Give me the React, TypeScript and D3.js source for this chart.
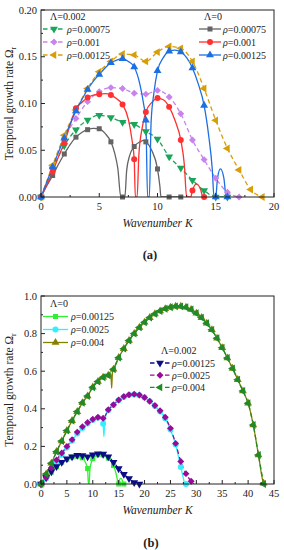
import React from 'react';
import * as d3 from 'd3';

type Pt = [number, number];
type Shape = 'square' | 'circle' | 'triUp' | 'triDown' | 'diamond' | 'triLeft';

// ---------- panel (a) data : wavenumber K, growth rate ----------
// Lambda = 0
const aL0_rho00075: Pt[] = [[0, 0], [0.5, 0.012], [1, 0.023], [1.5, 0.035], [2, 0.046], [2.5, 0.056], [3, 0.064], [3.5, 0.069], [4, 0.072], [4.5, 0.0735], [5, 0.073], [5.5, 0.068], [6, 0.059], [6.3, 0.048], [6.6, 0.03], [6.85, 0], [7, 0], [7.2, 0], [7.35, 0.028], [7.6, 0.044], [8, 0.054], [8.5, 0.059], [8.8, 0.0605], [9, 0.059], [9.5, 0.05], [10, 0.03], [10.2, 0.012], [10.3, 0], [11, 0], [12, 0]];
const aL0_rho001: Pt[] = [[0, 0], [0.5, 0.013], [1, 0.027], [1.5, 0.043], [2, 0.058], [2.5, 0.077], [3, 0.095], [3.5, 0.101], [4, 0.1065], [4.5, 0.109], [5, 0.11], [5.5, 0.1105], [6, 0.109], [6.5, 0.105], [7, 0.099], [7.5, 0.083], [7.8, 0.062], [8, 0.0405], [8.1, 0], [8.25, 0], [8.4, 0.045], [8.7, 0.075], [9, 0.091], [9.5, 0.101], [10, 0.1058], [10.5, 0.104], [11, 0.0964], [11.5, 0.082], [12, 0.061], [12.3, 0.035], [12.5, 0], [12.85, 0], [13, 0.007], [13.35, 0.014], [13.7, 0.008], [13.9, 0], [14, 0]];
const rho00125_L0: Pt[] = [[0, 0], [0.5, 0.016], [1, 0.032], [1.5, 0.048], [2, 0.063], [2.5, 0.078], [3, 0.092], [3.5, 0.104], [4, 0.115], [4.5, 0.124], [5, 0.131], [5.5, 0.138], [6, 0.1435], [6.5, 0.1465], [7, 0.148], [7.5, 0.145], [8, 0.139], [8.5, 0.12], [8.8, 0.1], [9, 0.082], [9.15, 0], [9.3, 0], [9.45, 0.08], [9.7, 0.112], [10, 0.135], [10.5, 0.149], [11, 0.156], [11.5, 0.157], [12, 0.155], [12.5, 0.149], [13, 0.138], [13.5, 0.121], [14, 0.098], [14.4, 0.065], [14.7, 0.03], [14.85, 0], [15, 0], [15.15, 0.02], [15.4, 0.03], [15.7, 0.02], [15.9, 0], [16, 0]];
// Lambda = 0.002
const aL2_rho00075: Pt[] = [[0, 0], [1, 0.03], [2, 0.055], [3, 0.072], [4, 0.0824], [5, 0.0874], [6, 0.085], [7, 0.08], [8, 0.0777], [9, 0.07], [10, 0.062], [11, 0.043], [12, 0.031], [13, 0.018], [14, 0.007], [15, 0], [16, 0]];
const aL2_rho001: Pt[] = [[0, 0], [1, 0.032], [2, 0.063], [3, 0.084], [4, 0.102], [5, 0.1125], [6, 0.117], [7, 0.116], [8, 0.111], [9, 0.11], [10, 0.114], [11, 0.107], [12, 0.089], [13, 0.061], [14, 0.04], [15, 0.02], [16, 0.005], [17, 0]];
const rho00125_L2: Pt[] = [[0, 0], [1, 0.034], [2, 0.066], [3, 0.093], [4, 0.116], [5, 0.134], [6, 0.145], [7, 0.153], [8, 0.152], [9, 0.145], [10, 0.155], [11, 0.161], [12, 0.159], [13, 0.145], [14, 0.116], [15, 0.082], [16, 0.052], [17, 0.029], [18, 0.008], [19, 0]];

// ---------- panel (b) data ----------
const bL0_rho0025: Pt[] = [[0, 0], [1, 0.03], [2, 0.07], [3, 0.113], [4, 0.155], [5, 0.194], [6, 0.23], [7, 0.268], [8, 0.298], [9, 0.322], [10, 0.341], [11, 0.353], [11.7, 0.352], [12, 0.32], [12.15, 0.252], [12.3, 0.33], [12.6, 0.37], [13, 0.392], [14, 0.42], [15, 0.445], [16, 0.463], [17, 0.473], [18, 0.476], [19, 0.472], [20, 0.46], [21, 0.44], [22, 0.415], [23, 0.385], [24, 0.348], [25, 0.29], [26, 0.21], [27, 0.09], [27.5, 0.03], [27.8, 0], [28, 0]];
const bL2_rho0025: Pt[] = [[0, 0], [1, 0.035], [2, 0.085], [3, 0.128], [4, 0.165], [5, 0.2], [6, 0.236], [7, 0.276], [8, 0.305], [9, 0.327], [10, 0.344], [11, 0.355], [12, 0.35], [13, 0.395], [14, 0.422], [15, 0.447], [16, 0.465], [17, 0.475], [18, 0.478], [19, 0.473], [20, 0.46], [21, 0.44], [22, 0.418], [23, 0.39], [24, 0.355], [25, 0.296], [26, 0.216], [27, 0.12], [28, 0.055], [29, 0.015], [29.5, 0]];
const bL0_rho004: Pt[] = [[0, 0], [1, 0.053], [2, 0.11], [3, 0.172], [4, 0.229], [5, 0.284], [6, 0.337], [7, 0.385], [8, 0.432], [9, 0.468], [10, 0.515], [11, 0.545], [12, 0.568], [13, 0.578], [13.5, 0.585], [13.65, 0.51], [13.8, 0.595], [14, 0.61], [15, 0.672], [16, 0.72], [17, 0.763], [18, 0.8], [19, 0.833], [20, 0.86], [21, 0.885], [22, 0.905], [23, 0.92], [24, 0.932], [25, 0.94], [26, 0.945], [27, 0.945], [28, 0.94], [29, 0.928], [30, 0.908], [31, 0.885], [32, 0.855], [33, 0.82], [34, 0.775], [35, 0.725], [36, 0.67], [37, 0.615], [38, 0.555], [39, 0.495], [40, 0.43], [41, 0.314], [42, 0.154], [43, 0.004], [43.2, 0]];
const bL2_rho004: Pt[] = [[0, 0], [1, 0.053], [2, 0.11], [3, 0.172], [4, 0.229], [5, 0.284], [6, 0.337], [7, 0.385], [8, 0.432], [9, 0.468], [10, 0.515], [11, 0.545], [12, 0.568], [13, 0.578], [14, 0.61], [15, 0.672], [16, 0.72], [17, 0.763], [18, 0.8], [19, 0.833], [20, 0.86], [21, 0.885], [22, 0.905], [23, 0.92], [24, 0.932], [25, 0.94], [26, 0.945], [27, 0.945], [28, 0.94], [29, 0.928], [30, 0.908], [31, 0.885], [32, 0.855], [33, 0.82], [34, 0.775], [35, 0.725], [36, 0.67], [37, 0.615], [38, 0.555], [39, 0.495], [40, 0.43], [41, 0.314], [42, 0.154], [43, 0]];

const xTicksA = [0, 5, 10, 15, 20];
const yTicksA = [0, 0.05, 0.1, 0.15, 0.2];
const xTicksB = [0, 5, 10, 15, 20, 25, 30, 35, 40, 45];
const yTicksB = [0, 0.2, 0.4, 0.6, 0.8, 1.0];

interface Series { rho: string; pts: Pt[]; color: string; dashed: boolean; shape: Shape }

const seriesA_L0: Series[] = [
  { rho: '0.00075', pts: aL0_rho00075, color: '#646464', dashed: false, shape: 'square' },
  { rho: '0.001', pts: aL0_rho001, color: '#ff3030', dashed: false, shape: 'circle' },
  { rho: '0.00125', pts: rho00125_L0, color: '#1c6fe3', dashed: false, shape: 'triUp' },
];
const seriesA_L2: Series[] = [
  { rho: '0.00075', pts: aL2_rho00075, color: '#1aa55a', dashed: true, shape: 'triDown' },
  { rho: '0.001', pts: aL2_rho001, color: '#c884ec', dashed: true, shape: 'diamond' },
  { rho: '0.00125', pts: rho00125_L2, color: '#d89e08', dashed: true, shape: 'triLeft' },
];
const seriesB_L0: Series[] = [
  { rho: '0.00125', pts: rho00125_L0, color: '#33ee33', dashed: false, shape: 'square' },
  { rho: '0.0025', pts: bL0_rho0025, color: '#33eeff', dashed: false, shape: 'circle' },
  { rho: '0.004', pts: bL0_rho004, color: '#858000', dashed: false, shape: 'triUp' },
];
const seriesB_L2: Series[] = [
  { rho: '0.00125', pts: rho00125_L2, color: '#0c0c88', dashed: true, shape: 'triDown' },
  { rho: '0.0025', pts: bL2_rho0025, color: '#990a99', dashed: true, shape: 'diamond' },
  { rho: '0.004', pts: bL2_rho004, color: '#1f8a2a', dashed: true, shape: 'triLeft' },
];

const FONT = '"Liberation Serif", "Times New Roman", serif';
const X0 = 41, X1 = 274;

function Marker({ shape, cx, cy, color }: { shape: Shape; cx: number; cy: number; color: string }) {
  let d: string | null = '';
  let rot = 0;
  if (shape === 'square') d = d3.symbol(d3.symbolSquare, 25)();
  else if (shape === 'circle') d = d3.symbol(d3.symbolCircle, 28)();
  else if (shape === 'diamond') { d = d3.symbol(d3.symbolSquare, 24)(); rot = 45; }
  else {
    d = d3.symbol(d3.symbolTriangle, 27)();
    rot = shape === 'triDown' ? 180 : shape === 'triLeft' ? -90 : 0;
  }
  return <path d={d || ''} fill={color} transform={`translate(${cx},${cy}) rotate(${rot})`} />;
}

function Legend({ x, y, lineX0, lineX1, textX, title, series, step }: {
  x: number; y: number; lineX0: number; lineX1: number; textX: number; title: string; series: Series[]; step: number;
}) {
  return (
    <g fontFamily={FONT} fontSize={10} fill="#222">
      <text x={x} y={y}>{title}</text>
      {series.map((s, i) => {
        const cy = y + 9.5 + i * step;
        return (
          <g key={i}>
            <line x1={lineX0} x2={lineX1} y1={cy} y2={cy} stroke={s.color} strokeWidth={1.3}
              strokeDasharray={s.dashed ? '4.5,3' : undefined} />
            <Marker shape={s.shape} cx={(lineX0 + lineX1) / 2} cy={cy} color={s.color} />
            <text x={textX} y={cy + 3.5}><tspan fontStyle="italic">ρ</tspan>=0.{s.rho.slice(2)}</text>
          </g>
        );
      })}
    </g>
  );
}

function Panel({ top, bottom, xMax, yMax, xTicks, yTicks, yFmt, xMinorStep, yMinorStep, layers, tag, children }: {
  top: number; bottom: number; xMax: number; yMax: number; xTicks: number[]; yTicks: number[];
  yFmt: string; xMinorStep: number; yMinorStep: number; layers: Series[]; tag: string; children?: React.ReactNode;
}) {
  const x = d3.scaleLinear().domain([0, xMax]).range([X0, X1]);
  const y = d3.scaleLinear().domain([0, yMax]).range([bottom, top]);
  const line = d3.line<Pt>().x(d => x(d[0])).y(d => y(d[1])).curve(d3.curveMonotoneX);
  const fmt = d3.format(yFmt);
  const xMinor = d3.range(0, xMax + 1e-9, xMinorStep);
  const yMinor = d3.range(0, yMax + 1e-9, yMinorStep);
  const mid = (top + bottom) / 2;
  const clipId = `clip-${tag}`;
  return (
    <g>
      <defs>
        <clipPath id={clipId}><rect x={X0} y={top - 4} width={X1 - X0} height={bottom - top + 4} /></clipPath>
      </defs>
      <g clipPath={`url(#${clipId})`}>
        {layers.map((s, i) => (
          <path key={'l' + i} d={line(s.pts) || ''} fill="none" stroke={s.color} strokeWidth={1.3}
            strokeDasharray={s.dashed ? '4.5,3' : undefined} />
        ))}
      </g>
      {layers.map((s, i) => (
        <g key={'m' + i}>
          {s.pts.filter(p => Number.isInteger(p[0])).map((p, j) => (
            <Marker key={j} shape={s.shape} cx={x(p[0])} cy={y(p[1])} color={s.color} />
          ))}
        </g>
      ))}
      <rect x={X0} y={top} width={X1 - X0} height={bottom - top} fill="none" stroke="#222" strokeWidth={1} />
      {xMinor.map((v, i) => {
        const major = xTicks.some(t => Math.abs(t - v) < 1e-9);
        return <line key={'xt' + i} x1={x(v)} x2={x(v)} y1={bottom} y2={bottom - (major ? 4 : 2)} stroke="#222" />;
      })}
      {yMinor.map((v, i) => {
        const major = yTicks.some(t => Math.abs(t - v) < 1e-9);
        return <line key={'yt' + i} x1={X0} x2={X0 + (major ? 4 : 2)} y1={y(v)} y2={y(v)} stroke="#222" />;
      })}
      <g fontFamily={FONT} fontSize={10.5} fill="#222">
        {xTicks.map(t => <text key={'xl' + t} x={x(t)} y={bottom + 12.5} textAnchor="middle">{t}</text>)}
        {yTicks.map(t => <text key={'yl' + t} x={X0 - 4} y={y(t) + 3.5} textAnchor="end">{fmt(t)}</text>)}
      </g>
      <text fontFamily={FONT} fontSize={11.5} fill="#222" textAnchor="middle"
        transform={`translate(13,${mid}) rotate(-90)`}>
        Temporal growth rate Ω<tspan fontSize={8} dy={3}>r</tspan>
      </text>
      <text x={(X0 + X1) / 2} y={bottom + 30} fontFamily={FONT} fontSize={11.5} fontStyle="italic"
        fill="#222" textAnchor="middle">Wavenumber K</text>
      {children}
    </g>
  );
}

export default function App() {
  return (
    <svg width={284} height={550} style={{ position: 'absolute', left: 0, top: 0, background: '#fff' }}>
      <Panel top={10} bottom={197} xMax={20} yMax={0.2} xTicks={xTicksA} yTicks={yTicksA} yFmt=".2f"
        xMinorStep={2.5} yMinorStep={0.025} layers={[...seriesA_L2, ...seriesA_L0]} tag="a">
        <Legend x={50} y={19.5} lineX0={43} lineX1={65} textX={67} title="Λ=0.002" series={seriesA_L2} step={13} />
        <Legend x={204} y={19.5} lineX0={199} lineX1={221} textX={223} title="Λ=0" series={seriesA_L0} step={13} />
      </Panel>
      <text x={150} y={259} fontFamily={FONT} fontSize={12.5} fontWeight="bold" textAnchor="middle" fill="#222">(a)</text>
      <Panel top={296} bottom={484} xMax={45} yMax={1.0} xTicks={xTicksB} yTicks={yTicksB} yFmt=".1f"
        xMinorStep={2.5} yMinorStep={0.1} layers={[...seriesB_L0, ...seriesB_L2]} tag="b">
        <Legend x={50} y={307} lineX0={43} lineX1={68} textX={71} title="Λ=0" series={seriesB_L0} step={13} />
        <Legend x={161} y={353.5} lineX0={150} lineX1={170} textX={172} title="Λ=0.002" series={seriesB_L2} step={12.2} />
      </Panel>
      <text x={151} y={547} fontFamily={FONT} fontSize={12.5} fontWeight="bold" textAnchor="middle" fill="#222">(b)</text>
    </svg>
  );
}
